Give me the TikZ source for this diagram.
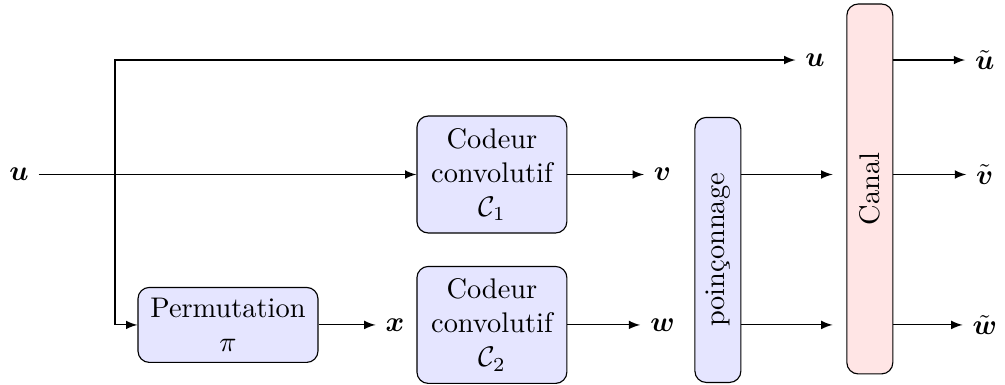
\documentclass[tikz,border=0pt]{standalone}
\usepackage{amsmath,amssymb}
\usepackage{tikz}

\begin{document}
\begin{tikzpicture}[>=latex,
  bloc/.style={draw,rounded corners,fill=blue!10,align=center},
  canalbox/.style={draw,rounded corners,fill=red!10}]
\useasboundingbox (0,0) rectangle (12.44,-4.765);
% entree et sorties des codeurs
\node (uin) at (0.235,-2.16) {$\boldsymbol{u}$};
\node (uhaut) at (10.09,-0.743) {$\boldsymbol{u}$};
\node[bloc,minimum width=1.856cm,minimum height=1.448cm] (cod1) at (6.089,-2.16) {Codeur\\convolutif\\$\mathcal{C}_1$};
\node[bloc,minimum width=1.856cm,minimum height=1.448cm] (cod2) at (6.089,-4.022) {Codeur\\convolutif\\$\mathcal{C}_2$};
\node[bloc,minimum width=2.228cm,minimum height=0.928cm] (perm) at (2.822,-4.022) {Permutation\\$\pi$};
\node (xlab) at (4.889,-4.022) {$\boldsymbol{x}$};
\node (vlab) at (8.2,-2.16) {$\boldsymbol{v}$};
\node (wlab) at (8.2,-4.022) {$\boldsymbol{w}$};
% poinconnage et canal
\node[bloc,minimum width=0.569cm,minimum height=3.28cm,inner sep=0pt] (punct) at (8.886,-3.094) {\rotatebox{90}{poinçonnage}};
\node[canalbox,minimum width=0.569cm,minimum height=4.579cm,inner sep=0pt] (canal) at (10.767,-2.339) {\rotatebox{90}{Canal}};
\node (ut) at (12.19,-0.743) {$\tilde{\boldsymbol{u}}$};
\node (vt) at (12.19,-2.16) {$\tilde{\boldsymbol{v}}$};
\node (wt) at (12.19,-4.022) {$\tilde{\boldsymbol{w}}$};
\coordinate (split) at (1.423,-2.16);
% fleches
\draw[->] (uin) -- (cod1);
\draw[->] (split) |- (uhaut);
\draw[->] (split) |- (perm.west);
\draw[->] (perm) -- (xlab);
\draw[->] (cod1) -- (vlab);
\draw[->] (cod2) -- (wlab);
\draw[->,shorten >=0.17cm] (punct.east |- vlab) -- (canal.west |- vlab);
\draw[->,shorten >=0.17cm] (punct.east |- wlab) -- (canal.west |- wlab);
\draw[->] (canal.east |- ut) -- (ut);
\draw[->] (canal.east |- vt) -- (vt);
\draw[->] (canal.east |- wt) -- (wt);
\end{tikzpicture}
\end{document}
